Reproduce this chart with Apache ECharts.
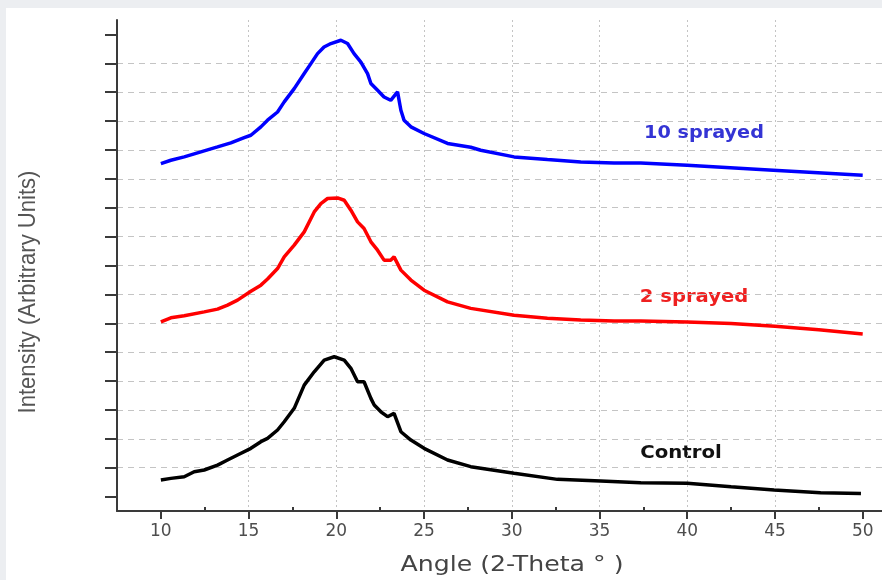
<!DOCTYPE html>
<html>
<head>
<meta charset="utf-8">
<script src="https://cdn.jsdelivr.net/npm/echarts@6/dist/echarts.min.js"></script>
<style>
html,body{margin:0;padding:0;width:882px;height:580px;background:#eceef1;overflow:hidden;}
#chart{position:absolute;left:6px;top:8px;width:876px;height:572px;background:#ffffff;}
</style>
</head>
<body>
<div id="chart"></div>
<script>
// ---- data ----
const xTickLabels = [10, 15, 20, 25, 30, 35, 40, 45, 50];
const xMinorTicks = [12.5, 17.5, 22.5, 27.5, 32.5, 37.5, 42.5, 47.5];
const yMajorTicks = [1,3,5,7,9,11,13,15,17,19,21,23,25,27,29,31,33];
const yMinorTicks = [2,4,6,8,10,12,14,16,18,20,22,24,26,28,30,32];

const blueAngles = [10.0,10.57,11.33,12.28,13.23,13.99,14.75,15.13,15.7,16.08,16.65,17.03,17.6,18.17,18.55,18.93,19.3,19.69,20.26,20.64,21.01,21.4,21.78,21.97,22.35,22.72,23.1,23.49,23.68,23.86,24.25,25.0,26.34,27.66,28.23,30.13,32.03,33.93,35.83,37.35,40,44.9,50];
const blueValues = [24.06,24.29,24.52,24.87,25.21,25.49,25.86,26.02,26.6,27.06,27.63,28.33,29.25,30.29,30.98,31.67,32.13,32.37,32.6,32.37,31.67,31.09,30.29,29.6,29.13,28.67,28.44,29.02,27.75,27.06,26.6,26.14,25.45,25.19,24.98,24.52,24.34,24.17,24.10,24.10,23.94,23.6,23.25];

const redAngles = [10,10.57,11.33,12.47,13.23,13.8,14.37,15.13,15.7,16.08,16.65,17.03,17.6,18.17,18.74,19.12,19.5,20.07,20.45,20.83,21.21,21.58,21.97,22.35,22.72,23.1,23.29,23.68,24.25,25,26.34,27.66,30.13,32.03,33.93,35.83,37.35,40,42.5,45,47.5,50];
const redValues = [13.10,13.38,13.52,13.79,13.98,14.26,14.60,15.22,15.64,16.06,16.79,17.60,18.41,19.33,20.71,21.29,21.64,21.68,21.52,20.83,20.02,19.56,18.64,18.06,17.37,17.37,17.60,16.68,15.99,15.29,14.48,14.03,13.56,13.34,13.22,13.15,13.15,13.08,12.98,12.80,12.55,12.25];

const blackAngles = [10,10.57,11.33,11.9,12.47,13.23,13.8,14.37,15.13,15.7,16.08,16.65,17.03,17.6,18.17,18.74,19.31,19.88,20.45,20.83,21.21,21.58,21.97,22.16,22.54,22.92,23.29,23.68,24.25,25,26.34,27.66,30.13,32.6,35.07,37.35,40,42.5,44.95,47.6,49.9];
const blackValues = [2.15,2.26,2.37,2.72,2.84,3.18,3.53,3.88,4.34,4.80,5.03,5.61,6.18,7.11,8.72,9.64,10.45,10.68,10.45,9.88,8.95,8.95,7.80,7.34,6.87,6.53,6.76,5.49,4.91,4.34,3.53,3.07,2.61,2.19,2.08,1.96,1.92,1.68,1.45,1.27,1.22];

const seriesNames = ['10 sprayed', '2 sprayed', 'Control'];
const xTitle = 'Angle (2-Theta ° )';
const yTitle = 'Intensity (Arbitrary Units)';

function pairs(a, v) { return a.map((x, i) => [x, v[i]]); }

const chart = echarts.init(document.getElementById('chart'), null, {renderer: 'canvas'});
const axisCol = '#3a3a3a';
const gridCol = '#c4c4c4';
const X_MIN = 7.5, X_MAX = 51.1, Y_MIN = 0, Y_MAX = 34;

function xAx(extra) {
  return Object.assign({
    type: 'value', min: X_MIN, max: X_MAX, interval: 2.5, gridIndex: 0,
    axisLine: {show: false}, axisTick: {show: false}, axisLabel: {show: false},
    splitLine: {show: false}
  }, extra);
}
function yAx(extra) {
  return Object.assign({
    type: 'value', min: Y_MIN, max: Y_MAX, interval: 1, gridIndex: 0,
    axisLine: {show: false}, axisTick: {show: false}, axisLabel: {show: false},
    splitLine: {show: false}
  }, extra);
}

const option = {
  animation: false,
  backgroundColor: '#ffffff',
  grid: {left: 111, top: 12, right: 0, bottom: 69, containLabel: false},
  xAxis: [
    xAx({
      axisLine: {show: true, onZero: false, lineStyle: {color: axisCol, width: 2}},
      splitLine: {show: true, showMinLine: false, showMaxLine: false, lineStyle: {color: gridCol, width: 1, type: [2, 3]}},
      axisTick: {show: true, customValues: xTickLabels, length: 8, lineStyle: {color: axisCol, width: 2}},
      axisLabel: {show: true, customValues: xTickLabels, color: '#4d4d4d', fontFamily: 'DejaVu Sans', fontSize: 17, margin: 12}
    }),
    xAx({
      axisTick: {show: true, customValues: xMinorTicks, length: 4, lineStyle: {color: axisCol, width: 2}}
    })
  ],
  yAxis: [
    yAx({
      axisLine: {show: true, onZero: false, lineStyle: {color: axisCol, width: 2}},
      splitLine: {show: true, showMinLine: false, showMaxLine: false, lineStyle: {color: gridCol, width: 1, type: [6, 5]}},
      axisTick: {show: true, customValues: yMajorTicks, length: 12, lineStyle: {color: axisCol, width: 2}}
    }),
    yAx({
      axisTick: {show: true, customValues: yMinorTicks, length: 7, lineStyle: {color: axisCol, width: 2}}
    })
  ],
  series: [
    {name: seriesNames[0], type: 'line', data: pairs(blueAngles, blueValues), showSymbol: false, lineStyle: {color: '#0000ff', width: 3.5}, itemStyle: {color: '#0000ff'}},
    {name: seriesNames[1], type: 'line', data: pairs(redAngles, redValues), showSymbol: false, lineStyle: {color: '#ff0000', width: 3.5}, itemStyle: {color: '#ff0000'}},
    {name: seriesNames[2], type: 'line', data: pairs(blackAngles, blackValues), showSymbol: false, lineStyle: {color: '#000000', width: 3.5}, itemStyle: {color: '#000000'}}
  ],
  graphic: [
    {type: 'text', x: 698, y: 126, scaleX: 1.13, style: {text: seriesNames[0], fill: '#3434d4', font: 'bold 17px "DejaVu Sans"', align: 'center', verticalAlign: 'middle'}},
    {type: 'text', x: 688, y: 290, scaleX: 1.15, style: {text: seriesNames[1], fill: '#ee2020', font: 'bold 17px "DejaVu Sans"', align: 'center', verticalAlign: 'middle'}},
    {type: 'text', x: 675, y: 446, scaleX: 1.16, style: {text: seriesNames[2], fill: '#111111', font: 'bold 17px "DejaVu Sans"', align: 'center', verticalAlign: 'middle'}},
    {type: 'text', x: 506, y: 558, scaleX: 1.2, style: {text: xTitle, fill: '#444444', font: '21px "DejaVu Sans"', align: 'center', verticalAlign: 'middle'}},
    {type: 'text', x: 22, y: 284, rotation: Math.PI / 2, scaleX: 0.92, style: {text: yTitle, fill: '#555555', font: '24px "Liberation Sans Narrow", "Liberation Sans", sans-serif', align: 'center', verticalAlign: 'middle'}}
  ]
};
chart.setOption(option);
</script>
</body>
</html>
